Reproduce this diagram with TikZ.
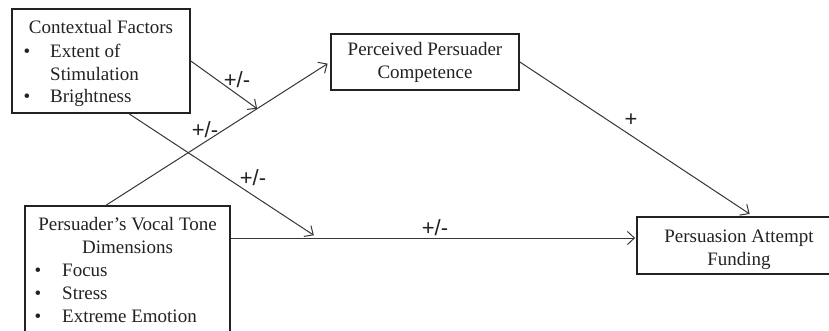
\documentclass[tikz,border=0pt]{standalone}
\usepackage{fontspec}
\setmainfont{Liberation Serif}
\newfontfamily\labfont{Liberation Sans}
\usetikzlibrary{arrows.meta,calc}
\definecolor{ink}{HTML}{222222}
\definecolor{lineclr}{HTML}{363636}
\tikzset{
  box/.style={draw=ink, line width=1.7pt, rectangle, inner sep=0pt, text=ink,
    font=\fontsize{19}{23}\selectfont, align=center},
  txt/.style={inner sep=0pt, text=ink, font=\fontsize{19}{23}\selectfont},
  arr/.style={draw=lineclr, line width=1pt, -{Straight Barb[length=7pt,width=13pt,line width=1pt]}},
  lab/.style={inner sep=0pt, text=ink, font=\labfont\fontsize{22}{24}\selectfont}
}
\begin{document}
\begin{tikzpicture}[x=1pt,y=-1pt]
\useasboundingbox (0,0) rectangle (829,330);
\fill[white] (0,0) rectangle (829,330);
% boxes
\node[box, minimum width=178pt, minimum height=104pt] (A) at (101,61) {};
\node[box, minimum width=205pt, minimum height=132pt] (B) at (127.5,272) {};
\node[box, minimum width=188pt, minimum height=56pt] (C) at (425,62) {Perceived Persuader\\Competence};
\node[box, minimum width=204pt, minimum height=57pt] (D) at (739,245.5) {};
% box A text
\node[txt, anchor=base] (a1) at (101,33) {Contextual Factors};
\node[txt, anchor=base] (ab1) at (27,57) {\textbullet};
\node[txt, anchor=base west] (a2) at (50,57) {Extent of};
\node[txt, anchor=base west] (a3) at (50,80) {Stimulation};
\node[txt, anchor=base] (ab2) at (27,102) {\textbullet};
\node[txt, anchor=base west] (a4) at (50,102) {Brightness};
% box B text
\node[txt, anchor=base] (b1) at (127.5,230) {Persuader’s Vocal Tone};
\node[txt, anchor=base] (b2) at (127.5,253) {Dimensions};
\node[txt, anchor=base] (bb1) at (38,276) {\textbullet};
\node[txt, anchor=base west] (b3) at (62,276) {Focus};
\node[txt, anchor=base] (bb2) at (38,299) {\textbullet};
\node[txt, anchor=base west] (b4) at (62,299) {Stress};
\node[txt, anchor=base] (bb3) at (38,322) {\textbullet};
\node[txt, anchor=base west] (b5) at (62,322) {Extreme Emotion};
% box D text
\node[txt, anchor=base] (d1) at (739,242) {Persuasion Attempt};
\node[txt, anchor=base] (d2) at (739,265) {Funding};
% coordinates
\coordinate (s1) at ([xshift=82pt]B.north west);
\coordinate (p1) at ($(s1)!0.674!(C.west)$);
\coordinate (h1) at ([yshift=7.5pt]D.west);
\coordinate (h0) at (B.east |- h1);
\coordinate (p2) at (318,238);
\coordinate (s3) at ([xshift=118pt]A.south west);
\coordinate (e5) at ([xshift=14pt]D.north);
% connectors
\draw[arr, shorten >=3pt] (s1) -- (C.west);
\draw[arr] (A.east) -- (p1);
\draw[arr, shorten >=5pt] (s3) -- (p2);
\draw[arr, shorten >=1pt] (h0) -- (h1);
\draw[arr, shorten >=4pt] (C.east) -- (e5);
% labels
\node[lab] (l1) at (237,80) {+/-};
\node[lab] (l2) at (205,130) {+/-};
\node[lab] (l3) at (253,178) {+/-};
\node[lab] (l4) at (435,228) {+/-};
\node[lab] (l5) at (631,120) {+};
\end{tikzpicture}
\end{document}
